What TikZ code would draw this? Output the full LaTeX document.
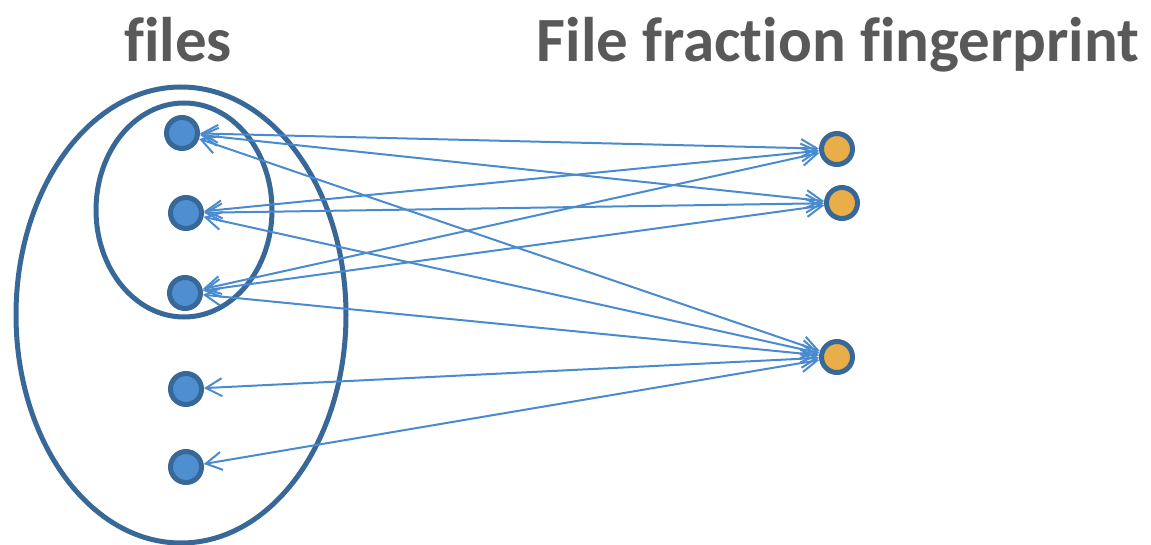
\documentclass[tikz,border=0pt]{standalone}
\usepackage{fontspec}
\setmainfont[RawFeature={-liga;-clig;-calt;-dlig}]{Carlito}
\usetikzlibrary{arrows.meta}

\definecolor{rim}{HTML}{386898}
\definecolor{filefill}{HTML}{4F8ED0}
\definecolor{printfill}{HTML}{E9AE48}
\definecolor{link}{HTML}{4A8BD0}
\definecolor{heading}{HTML}{595959}

\tikzset{
  filedot/.style={circle, draw=rim, fill=filefill, line width=5pt, minimum size=31pt, inner sep=0pt},
  printdot/.style={circle, draw=rim, fill=printfill, line width=5pt, minimum size=31pt, inner sep=0pt},
  linkline/.style={draw=link, line width=2pt, {Straight Barb[length=16pt,width=18pt]}-{Straight Barb[length=16pt,width=18pt]}},
  heading/.style={anchor=base, text=heading, font=\bfseries\fontsize{63}{70}\selectfont},
}

\begin{document}
\begin{tikzpicture}[x=1pt, y=-1pt]

  \useasboundingbox (0,0) rectangle (1151,545);

  %titles (kerns keep f-i and t-i apart)
  \node[heading] (tfiles) at (178,62) {f\kern0pt iles};
  \node[heading] (tprint) at (838,62) {File fract\kern0pt ion f\kern0pt ingerprint};

  %sets
  \draw[rim, line width=5pt] (181,315) ellipse [x radius=165pt, y radius=228pt];
  \draw[rim, line width=5pt] (184,210) ellipse [x radius=88pt, y radius=107pt];

  %files
  \node[filedot] (f1) at (182,133) {};
  \node[filedot] (f2) at (186,213) {};
  \node[filedot] (f3) at (185,293) {};
  \node[filedot] (f4) at (186,389) {};
  \node[filedot] (f5) at (186,467) {};

  %fingerprints
  \node[printdot] (p1) at (837,149) {};
  \node[printdot] (p2) at (842,203) {};
  \node[printdot] (p3) at (837,357) {};

  %links
  \foreach \a/\b in {f1/p1, f1/p2, f1/p3, f2/p1, f2/p2, f2/p3, f3/p1, f3/p2, f3/p3, f4/p3, f5/p3}
    \draw[linkline] (\a) -- (\b);

\end{tikzpicture}
\end{document}
